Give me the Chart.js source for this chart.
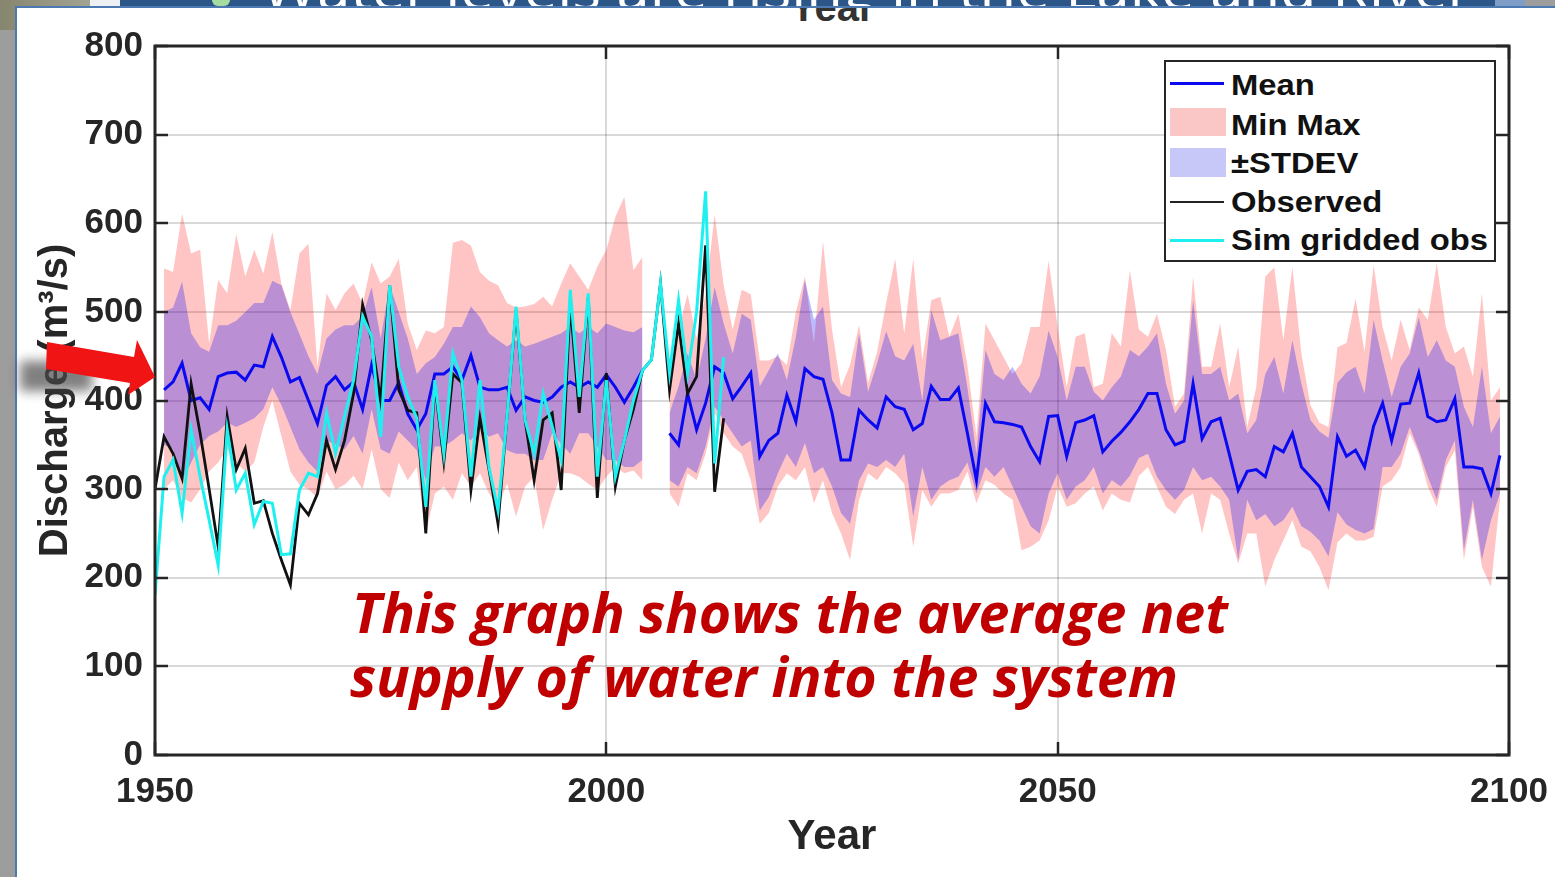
<!DOCTYPE html>
<html>
<head>
<meta charset="utf-8">
<title>Discharge projections</title>
<script src="https://cdn.jsdelivr.net/npm/chart.js@4/dist/chart.umd.min.js"></script>
<style>
  html, body { margin: 0; padding: 0; width: 1555px; height: 877px; overflow: hidden; background: #9d9d9d; }
  .abs { position: absolute; }
  #corner { left: 0; top: 0; width: 90px; height: 30px; background: linear-gradient(90deg, #86866f, #a3a392); }
  #gap { left: 90px; top: 0; width: 30px; height: 7px; background: #eef0f4; }
  #banner { left: 120px; top: 0; width: 1375px; height: 7px; background: #2c5688; overflow: hidden; }
  #banner span { position: absolute; left: 142px; top: -39px; font: 54px/1 'Open Sans', sans-serif; color: #fff; white-space: nowrap; transform-origin: left top; }
  #banner2 { left: 1495px; top: 0; width: 30px; height: 7px; background: #7e9ec8; }
  #leaf { left: 212px; top: 0; width: 18px; height: 6px; background: #a6dca0; border-radius: 0 0 6px 6px; }
  #panel { left: 15px; top: 6px; width: 1540px; height: 871px; background: #fff; border-left: 2px solid #4d79b3; border-top: 2px solid #4d79b3; box-sizing: border-box; }
  #ghost { left: 0; top: 8px; width: 1555px; height: 13px; overflow: hidden; }
  #ghost span { position: absolute; left: 790px; top: -21px; font: bold 40px/1 'Liberation Sans', Arial, sans-serif; color: #333; }
  #chart { left: 0; top: 0; }
  .legend-box { left: 1164px; top: 60px; width: 332px; height: 202px; border: 2.5px solid #262626; background: #fff; box-sizing: border-box; }
  .legend-text { font: bold 29px/29px 'Liberation Sans', Arial, sans-serif; color: #111; white-space: nowrap; left: 1231px; transform-origin: left top; }
  .note { font: italic 700 56px/1 'Open Sans', sans-serif; color: #c00000; white-space: nowrap; transform-origin: left top; }
</style>
</head>
<body>
<div id="corner" class="abs"></div>
<div id="gap" class="abs"></div>
<div id="banner" class="abs"><span id="bannerText">Water levels are rising in the Lake and River</span></div>
<div id="leaf" class="abs"></div>
<div id="banner2" class="abs"></div>
<div id="panel" class="abs"></div>
<div id="ghost" class="abs"><span>Year</span></div>
<canvas id="chart" class="abs" width="1555" height="877"></canvas>

<!-- legend -->
<div class="abs legend-box"></div>
<div class="abs" style="left:1170px;top:81.5px;width:54px;height:3px;background:#0a0af0"></div>
<div class="abs" style="left:1170px;top:108px;width:56px;height:28px;background:#fac6c6"></div>
<div class="abs" style="left:1170px;top:148px;width:56px;height:29px;background:#c8c8f8"></div>
<div class="abs" style="left:1170px;top:200.5px;width:54px;height:2px;background:#222"></div>
<div class="abs" style="left:1170px;top:238.5px;width:54px;height:3px;background:#1ef0f0"></div>
<div class="abs legend-text" style="top:70.5px">Mean</div>
<div class="abs legend-text" style="top:110.5px">Min Max</div>
<div class="abs legend-text" style="top:148.5px">±STDEV</div>
<div class="abs legend-text" style="top:187.5px">Observed</div>
<div class="abs legend-text" id="legLong" style="top:225.5px">Sim gridded obs</div>

<!-- arrow pointing at the axis -->
<svg class="abs" style="left:0;top:0" width="170" height="420" viewBox="0 0 170 420">
  <defs><filter id="soft" x="-50%" y="-50%" width="200%" height="200%"><feGaussianBlur stdDeviation="6"/></filter></defs>
  <rect x="20" y="361" width="72" height="30" fill="#4a4a4a" opacity="0.7" filter="url(#soft)"/>
  <polygon points="47,342 134,357 137,340 155,377 128,395 130,383 46,369" fill="#f01414"/>
</svg>

<div id="note1" class="abs note" style="left:352px;top:583px">This graph shows the average net</div>
<div id="note2" class="abs note" style="left:350px;top:647px">supply of water into the system</div>

<script>
// ---- axis ticks ----
const xTicks = [1950, 2000, 2050, 2100];
const yTicks = [0, 100, 200, 300, 400, 500, 600, 700, 800];

// ---- observed and gridded-simulation series, 1950-2013 ----
const obsStart = 1950;
const observed = [
  300, 359, 340, 312, 419, 363, 300, 235, 382, 322,
  346, 284, 287, 250, 220, 192, 284, 271, 295, 355,
  322, 355, 408, 508, 468, 400, 530, 412, 389, 386,
  250, 420, 331, 430, 420, 299, 380, 322, 261, 382,
  502, 378, 310, 378, 386, 299, 510, 386, 517, 290,
  431, 303, 355, 390, 434, 446, 532, 412, 487, 408,
  427, 575, 297, 380
];
const simGridded = [
  180, 314, 333, 273, 367, 314, 265, 214, 367, 299,
  318, 260, 286, 284, 226, 227, 299, 318, 314, 386,
  340, 382, 423, 495, 472, 359, 530, 438, 404, 380,
  280, 423, 340, 453, 423, 314, 423, 325, 276, 382,
  506, 378, 340, 408, 371, 333, 525, 404, 521, 314,
  423, 314, 355, 400, 434, 446, 532, 431, 513, 430,
  500, 636, 329, 449
];

// ---- ensemble statistics, historical run 1951-2004 ----
const histStart = 1951;
const meanHist = [
  412, 421, 442, 400, 403, 390, 427, 431, 432, 423,
  440, 438, 472, 449, 421, 426, 400, 374, 417, 427,
  412, 421, 390, 440, 400, 400, 420, 385, 367, 385,
  430, 430, 438, 423, 451, 415, 412, 412, 415, 389,
  404, 400, 398, 404, 415, 421, 415, 421, 415, 429,
  415, 398, 415, 434
];
const maxHist = [
  549, 545, 611, 566, 570, 464, 536, 521, 588, 540,
  570, 543, 590, 532, 502, 566, 577, 438, 521, 502,
  521, 532, 509, 556, 532, 540, 560, 487, 457, 479,
  476, 483, 578, 581, 575, 545, 535, 530, 510, 505,
  506, 509, 517, 506, 532, 555, 540, 525, 551, 570,
  607, 630, 547, 562
];
const stdUpHist = [
  500, 505, 534, 476, 460, 455, 485, 485, 490, 500,
  510, 510, 535, 530, 500, 475, 450, 430, 470, 480,
  485, 485, 495, 528, 470, 530, 500, 470, 430, 442,
  449, 464, 483, 483, 506, 494, 476, 468, 461, 468,
  461, 464, 468, 472, 476, 483, 476, 483, 476, 487,
  483, 479, 477, 483
];
const stdLowHist = [
  350, 345, 310, 330, 350, 360, 365, 375, 370, 375,
  380, 390, 415, 395, 370, 345, 330, 320, 355, 350,
  345, 360, 340, 390, 345, 340, 365, 355, 344, 310,
  348, 348, 355, 363, 355, 370, 359, 363, 344, 340,
  340, 333, 333, 363, 351, 340, 363, 363, 348, 333,
  333, 325, 325, 333
];
const minHist = [
  300, 310, 290, 285, 300, 320, 330, 345, 330, 320,
  330, 370, 400, 360, 320, 305, 300, 290, 320, 300,
  305, 315, 300, 345, 300, 290, 330, 310, 325, 250,
  295, 303, 288, 318, 303, 318, 295, 280, 306, 269,
  303, 314, 254, 288, 318, 318, 314, 306, 299, 314,
  325, 318, 321, 310
];

// ---- ensemble statistics, projection run 2007-2099 ----
const futureStart = 2007;
const meanFuture = [
  363, 350, 408, 367, 397, 438, 431, 402, 416, 431,
  337, 355, 363, 406, 376, 436, 427, 424, 386, 333,
  333, 389, 378, 369, 404, 393, 390, 367, 374, 416,
  401, 401, 414, 363, 310, 397, 376, 375, 373, 370,
  348, 331, 382, 383, 337, 375, 378, 383, 342, 354,
  364, 376, 390, 408, 408, 367, 350, 354, 419, 357,
  376, 380, 340, 299, 320, 322, 314, 348, 342, 363,
  325, 314, 303, 280, 359, 337, 344, 325, 371, 397,
  355, 396, 397, 431, 382, 376, 378, 402, 325, 325,
  323, 295, 338
];
const maxFuture = [
  440, 480, 520, 470, 520, 610, 530, 480, 525, 520,
  445, 445, 450, 440, 500, 540, 465, 580, 480, 415,
  440, 485, 420, 455, 510, 560, 476, 560, 445, 513,
  517, 472, 498, 440, 360, 487, 468, 449, 430, 442,
  483, 483, 558, 483, 415, 472, 476, 415, 419, 476,
  461, 547, 480, 472, 498, 457, 393, 408, 540, 438,
  438, 487, 415, 461, 370, 415, 540, 550, 468, 551,
  453, 395, 375, 370, 460, 465, 515, 455, 553, 483,
  445, 491, 457, 505, 491, 555, 483, 453, 461, 427,
  521, 400, 415
];
const stdUpFuture = [
  386, 416, 453, 423, 470, 528, 487, 453, 498, 491,
  416, 434, 453, 423, 472, 536, 491, 506, 423, 408,
  404, 476, 410, 442, 478, 450, 445, 464, 400, 502,
  468, 472, 476, 415, 340, 457, 430, 423, 438, 419,
  408, 427, 479, 449, 400, 438, 438, 410, 400, 415,
  427, 457, 450, 461, 476, 419, 385, 400, 513, 430,
  430, 438, 400, 408, 363, 378, 430, 449, 408, 468,
  419, 378, 365, 358, 420, 432, 438, 408, 491, 445,
  404, 438, 453, 494, 449, 468, 445, 438, 393, 370,
  438, 363, 382
];
const stdLowFuture = [
  310, 303, 325, 318, 348, 393, 378, 363, 348, 355,
  276, 291, 318, 340, 325, 352, 318, 325, 303, 273,
  261, 310, 329, 325, 333, 325, 340, 269, 325, 288,
  303, 310, 314, 330, 295, 325, 314, 325, 303, 280,
  258, 250, 295, 318, 288, 303, 310, 325, 295, 310,
  303, 315, 335, 340, 314, 299, 288, 299, 325, 310,
  314, 303, 288, 220, 288, 265, 272, 258, 265, 280,
  258, 252, 242, 224, 274, 260, 254, 250, 255, 325,
  325, 340, 370, 344, 314, 288, 333, 355, 231, 288,
  220, 265, 295
];
const minFuture = [
  295, 280, 318, 310, 340, 386, 363, 348, 340, 310,
  261, 273, 303, 318, 310, 325, 284, 310, 273, 250,
  220, 288, 318, 310, 325, 318, 306, 235, 299, 280,
  295, 295, 299, 320, 284, 310, 305, 295, 288, 231,
  235, 242, 265, 303, 280, 284, 295, 303, 276, 295,
  288, 285, 315, 325, 303, 280, 272, 288, 295, 250,
  295, 288, 250, 216, 250, 250, 190, 220, 242, 265,
  235, 230, 212, 186, 240, 250, 242, 242, 246, 303,
  310, 325, 363, 340, 303, 280, 325, 344, 220, 280,
  212, 190, 288
];

// ---- styling ----
const FONT = "'Liberation Sans', Arial, sans-serif";
const INK = '#262626';
const PINK = 'rgba(255, 0, 0, 0.23)';
const BLUE = 'rgba(0, 0, 255, 0.27)';

// pair a yearly series with its years
const pts = (start, arr) => arr.map((v, i) => ({ x: start + i, y: v }));

const edge = (data, order, fillTarget, color) => ({
  data, order,
  borderColor: 'rgba(0,0,0,0)', borderWidth: 0, pointRadius: 0,
  fill: fillTarget === null ? false : { target: fillTarget },
  backgroundColor: color || 'rgba(0,0,0,0)'
});
const line = (data, order, color, width) => ({
  data, order, borderColor: color, borderWidth: width, pointRadius: 0,
  fill: false, tension: 0
});

const datasets = [
  edge(pts(histStart, maxHist), 10, 1, PINK),        // 0
  edge(pts(histStart, minHist), 10, null),           // 1
  edge(pts(futureStart, maxFuture), 10, 3, PINK),    // 2
  edge(pts(futureStart, minFuture), 10, null),       // 3
  edge(pts(histStart, stdUpHist), 9, 5, BLUE),       // 4
  edge(pts(histStart, stdLowHist), 9, null),         // 5
  edge(pts(futureStart, stdUpFuture), 9, 7, BLUE),   // 6
  edge(pts(futureStart, stdLowFuture), 9, null),     // 7
  line(pts(histStart, meanHist), 3, '#0a0af0', 3),
  line(pts(futureStart, meanFuture), 3, '#0a0af0', 3),
  line(pts(obsStart, observed), 2, '#111111', 2.8),
  line(pts(obsStart, simGridded), 1, '#1ef0f0', 3)
];

// axes box with inward tick marks
const framePlugin = {
  id: 'frame',
  afterDatasetsDraw(chart) {
    const { ctx, chartArea: { left, right, top, bottom }, scales: { x, y } } = chart;
    ctx.save();
    ctx.strokeStyle = INK;
    ctx.lineWidth = 2.5;
    const seg = (x1, y1, x2, y2) => { ctx.beginPath(); ctx.moveTo(x1, y1); ctx.lineTo(x2, y2); ctx.stroke(); };
    yTicks.forEach(v => {
      const py = Math.round(y.getPixelForValue(v));
      seg(left, py, left + 13, py);
      seg(right - 13, py, right, py);
    });
    xTicks.forEach(v => {
      const px = Math.round(x.getPixelForValue(v));
      seg(px, top, px, top + 13);
      seg(px, bottom - 13, px, bottom);
    });
    ctx.lineWidth = 3;
    ctx.strokeRect(left, top, right - left, bottom - top);
    ctx.restore();
  }
};

new Chart(document.getElementById('chart'), {
  type: 'line',
  data: { datasets },
  plugins: [framePlugin],
  options: {
    responsive: false,
    animation: false,
    devicePixelRatio: 1,
    layout: { padding: { left: 0, top: 46, right: 46, bottom: 0 } },
    plugins: { legend: { display: false }, tooltip: { enabled: false } },
    scales: {
      x: {
        type: 'linear', min: 1950, max: 2100,
        afterBuildTicks: s => { s.ticks = xTicks.map(v => ({ value: v })); },
        afterFit: s => { s.height = 122; s.paddingLeft = 0; s.paddingRight = 0; },
        ticks: { padding: 16, color: INK, font: { family: FONT, size: 35, weight: 'bold' }, callback: v => String(v), maxRotation: 0 },
        grid: { color: 'rgba(0,0,0,0.15)', lineWidth: 2, drawTicks: false },
        border: { display: false },
        title: { display: true, text: 'Year', color: INK, font: { family: FONT, size: 42, weight: 'bold' }, padding: { top: 0, bottom: 14 } }
      },
      y: {
        min: 0, max: 800,
        afterBuildTicks: s => { s.ticks = yTicks.map(v => ({ value: v })); },
        afterFit: s => { s.width = 155; s.paddingTop = 0; s.paddingBottom = 0; },
        ticks: { padding: 12, color: INK, font: { family: FONT, size: 35, weight: 'bold' } },
        grid: { color: 'rgba(0,0,0,0.15)', lineWidth: 2, drawTicks: false },
        border: { display: false },
        title: { display: true, text: 'Discharge (m³/s)', color: INK, font: { family: FONT, size: 40, weight: 'bold' }, padding: { top: 32, bottom: 0 } }
      }
    }
  }
});

// stretch text lines to their set widths
function fit(el, width) {
  el.style.transform = 'none';
  const w = el.getBoundingClientRect().width;
  const k = width / w;
  el.style.transform = 'scaleX(' + k + ')';
  return k;
}
function fitAll() {
  fit(document.getElementById('note1'), 876);
  fit(document.getElementById('note2'), 828);
  fit(document.getElementById('bannerText'), 1210);
  const k = fit(document.getElementById('legLong'), 257);
  document.querySelectorAll('.legend-text').forEach(el => { el.style.transform = 'scaleX(' + k + ')'; });
}
fitAll();
if (document.fonts && document.fonts.ready) document.fonts.ready.then(fitAll);
</script>
</body>
</html>
